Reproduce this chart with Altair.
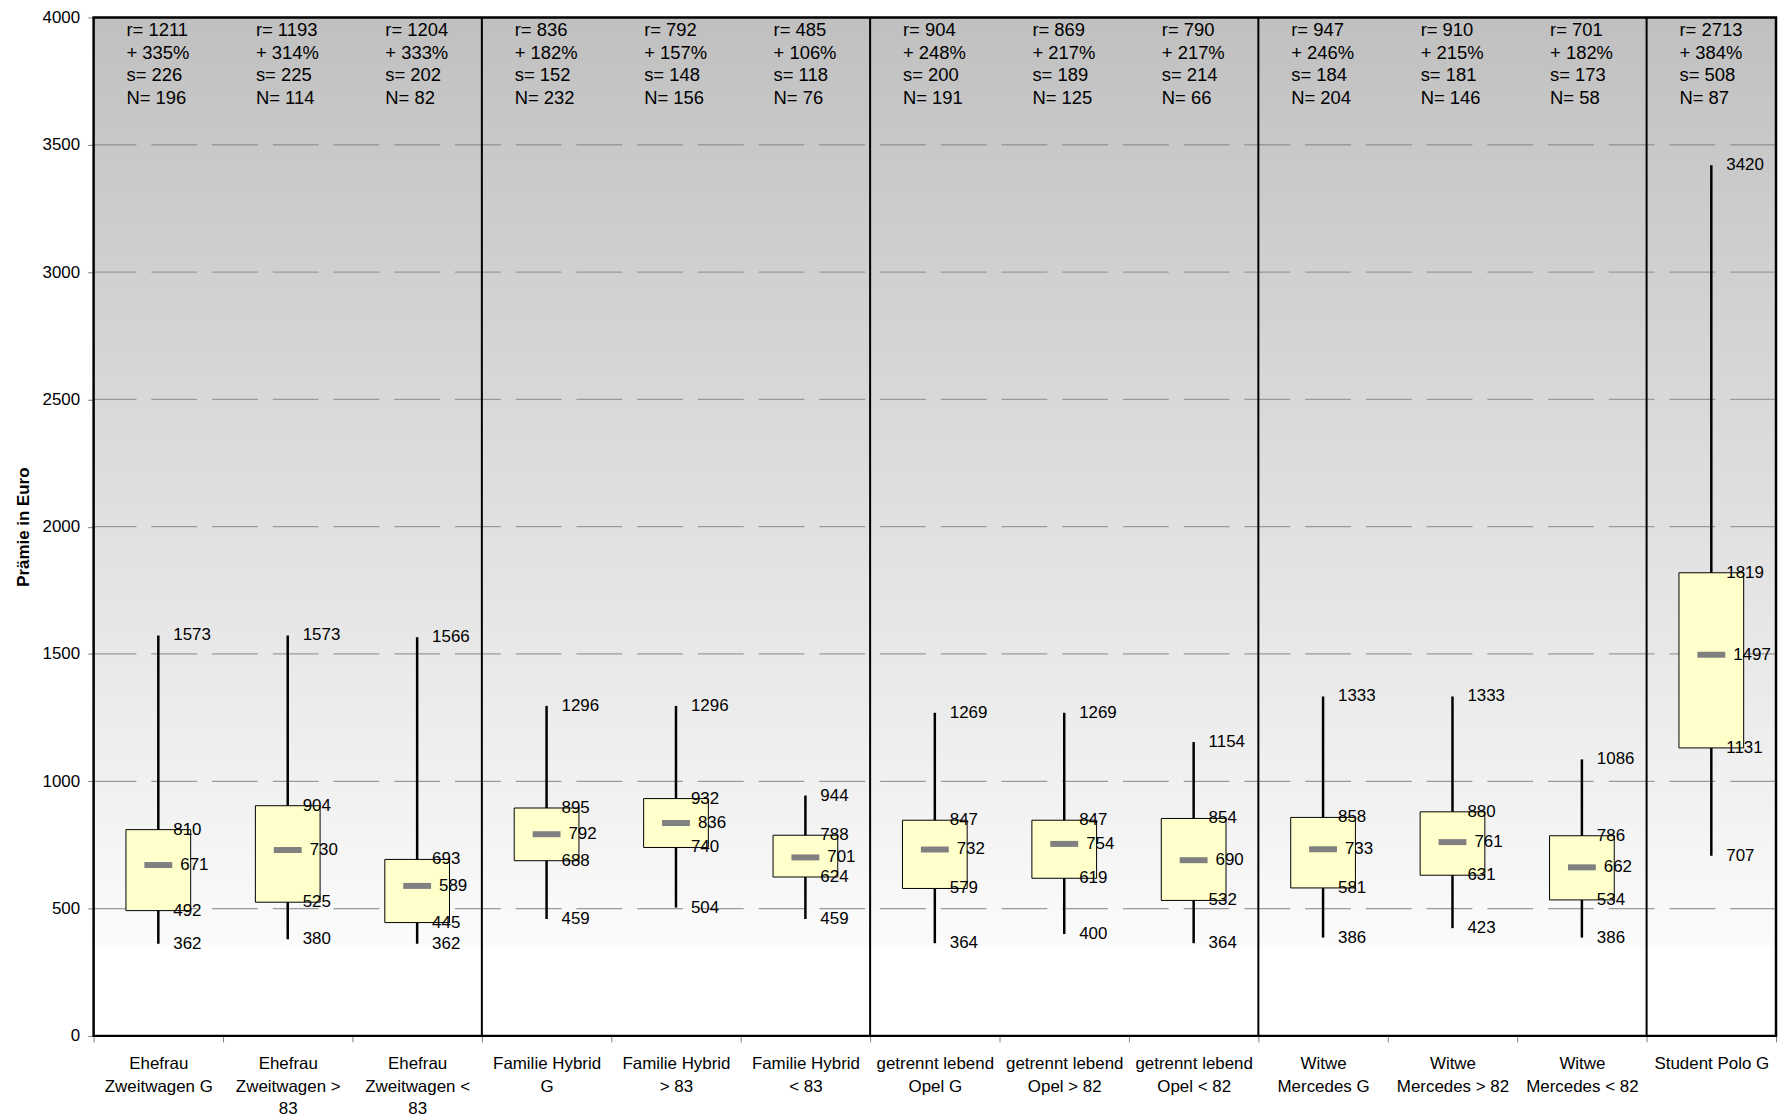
import altair as alt
import pandas as pd

categories = ["Ehefrau|Zweitwagen G", "Ehefrau|Zweitwagen >|83", "Ehefrau|Zweitwagen <|83",
              "Familie Hybrid|G", "Familie Hybrid|> 83", "Familie Hybrid|< 83",
              "getrennt lebend|Opel G", "getrennt lebend|Opel > 82", "getrennt lebend|Opel < 82",
              "Witwe|Mercedes G", "Witwe|Mercedes > 82", "Witwe|Mercedes < 82", "Student Polo G"]
max_vals = [1573, 1573, 1566, 1296, 1296, 944, 1269, 1269, 1154, 1333, 1333, 1086, 3420]
q3_vals = [810, 904, 693, 895, 932, 788, 847, 847, 854, 858, 880, 786, 1819]
median_vals = [671, 730, 589, 792, 836, 701, 732, 754, 690, 733, 761, 662, 1497]
q1_vals = [492, 525, 445, 688, 740, 624, 579, 619, 532, 581, 631, 534, 1131]
min_vals = [362, 380, 362, 459, 504, 459, 364, 400, 364, 386, 423, 386, 707]
r_vals = [1211, 1193, 1204, 836, 792, 485, 904, 869, 790, 947, 910, 701, 2713]
pct_vals = [335, 314, 333, 182, 157, 106, 248, 217, 217, 246, 215, 182, 384]
s_vals = [226, 225, 202, 152, 148, 118, 200, 189, 214, 184, 181, 173, 508]
n_vals = [196, 114, 82, 232, 156, 76, 191, 125, 66, 204, 146, 58, 87]
group_starts = ["Familie Hybrid|G", "getrennt lebend|Opel G", "Witwe|Mercedes G", "Student Polo G"]
y_ticks = [0, 500, 1000, 1500, 2000, 2500, 3000, 3500, 4000]
y_range = [0, 4000]

FONT = "Liberation Sans"
FS = 17

df = pd.DataFrame({
    "cat": categories, "max": max_vals, "q3": q3_vals, "median": median_vals,
    "q1": q1_vals, "min": min_vals,
})
df["info"] = [f"r= {r}\n+ {p}%\ns= {s}\nN= {n}"
              for r, p, s, n in zip(r_vals, pct_vals, s_vals, n_vals)]

long_rows = []
for c, a, b, d, e in zip(categories, max_vals, q3_vals, q1_vals, min_vals):
    for v in (a, b, d, e):
        long_rows.append({"cat": c, "value": v})
df_long = pd.DataFrame(long_rows)
df_sep = pd.DataFrame({"cat": group_starts})
df_bg = pd.DataFrame({"bot": [y_range[0]], "top": [y_range[1]]})

xs = alt.Scale(domain=categories, paddingInner=0, paddingOuter=0)
ys = alt.Scale(domain=y_range, nice=False)

x_enc = alt.X("cat:N", scale=xs, sort=categories, title=None,
              axis=alt.Axis(labelExpr="split(datum.label, '|')", labelAngle=0,
                            labelFontSize=FS, labelFont=FONT, labelColor="black",
                            labelLineHeight=22.5, labelPadding=14, labelOverlap=False,
                            tickBand="extent", tickSize=6, tickColor="#808080",
                            tickWidth=1, domain=False))
y_axis = alt.Axis(values=y_ticks, format="d", labelFontSize=FS, labelFont=FONT,
                  labelColor="black", labelPadding=8, labelFlush=False, tickSize=6,
                  tickColor="#808080", tickWidth=1, domain=False, grid=False,
                  title="Prämie in Euro", titleFont=FONT, titleFontSize=FS,
                  titleFontWeight="bold", titleColor="black", titleX=-65, titleY=511.5,
                  titleBaseline="alphabetic", titleAngle=270, titleAlign="center")

bg = alt.Chart(df_bg).mark_rect(
    color=alt.LinearGradient(gradient="linear", x1=0, x2=0, y1=0, y2=1, stops=[
        alt.GradientStop(color="#c0c0c0", offset=0),
        alt.GradientStop(color="#fbfbfb", offset=0.911),
        alt.GradientStop(color="#ffffff", offset=0.912),
        alt.GradientStop(color="#ffffff", offset=1),
    ])
).encode(
    y=alt.Y("top:Q", scale=ys, axis=y_axis),
    y2="bot:Q",
)

frame = alt.Chart(df_bg).mark_rect(fillOpacity=0, stroke="black", strokeWidth=2.5).encode(
    y=alt.Y("top:Q", scale=ys),
    y2="bot:Q",
)

grid = alt.Chart(pd.DataFrame({"g": y_ticks[1:-1]})).mark_rule(
    color="#9a9a9a", strokeWidth=1.3, strokeDash=[46, 15]
).encode(y=alt.Y("g:Q", scale=ys))

base = alt.Chart(df)
whisker = base.mark_rule(color="black", strokeWidth=2.5).encode(
    x=x_enc,
    y=alt.Y("min:Q", scale=ys),
    y2="max:Q",
)

box = base.mark_bar(size=65, fill="#FFFFCC", stroke="black", strokeWidth=1).encode(
    x=alt.X("cat:N", scale=xs, sort=categories),
    y=alt.Y("q1:Q", scale=ys),
    y2="q3:Q",
)

med = base.mark_tick(color="#808080", size=28, thickness=6, opacity=1).encode(
    x=alt.X("cat:N", scale=xs, sort=categories),
    y=alt.Y("median:Q", scale=ys),
)

med_lbl = base.mark_text(align="left", baseline="middle", dx=22, font=FONT,
                         fontSize=FS, color="black").encode(
    x=alt.X("cat:N", scale=xs, sort=categories),
    y=alt.Y("median:Q", scale=ys),
    text="median:Q",
)

other_lbl = alt.Chart(df_long).mark_text(align="left", baseline="middle", dx=15,
                                         font=FONT, fontSize=FS, color="black").encode(
    x=alt.X("cat:N", scale=xs, sort=categories),
    y=alt.Y("value:Q", scale=ys),
    text="value:Q",
)

info = base.mark_text(align="left", baseline="top", dx=-32, dy=4, font=FONT,
                      fontSize=18.5, color="black", lineBreak="\n",
                      lineHeight=22.6).encode(
    x=alt.X("cat:N", scale=xs, sort=categories),
    y=alt.datum(y_range[1], scale=ys),
    text="info:N",
)

seps = alt.Chart(df_sep).mark_rule(color="black", strokeWidth=2).encode(
    x=alt.X("cat:N", scale=xs, sort=categories, bandPosition=0),
)

chart = alt.layer(bg, grid, whisker, box, med, med_lbl, other_lbl, info, seps, frame).properties(
    width=1690, height=1023,
    autosize=alt.AutoSizeParams(type="none"),
    padding={"left": 86, "top": 7, "right": 5, "bottom": 84},
).configure_view(
    stroke=None,
).configure(font=FONT)

chart.save("out.html", embed_options={"renderer": "svg", "actions": False})
